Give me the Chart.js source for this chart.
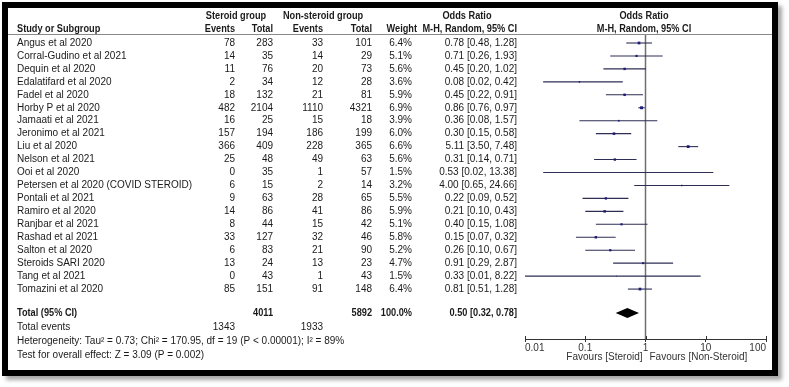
<!DOCTYPE html>
<html>
<head>
<meta charset="utf-8">
<script src="https://cdn.jsdelivr.net/npm/chart.js@4"></script>
<style>
  body { margin: 0; background: #fff; }
  #wrap { position: relative; width: 789px; height: 387px; }
  #frame {
    position: absolute; left: 2px; top: 2px; width: 764px; height: 362px;
    border: 6px solid #000; box-shadow: 4px 4px 4px rgba(0,0,0,0.35);
    pointer-events: none;
  }
</style>
</head>
<body>
<div id="wrap">
  <canvas id="forest" width="789" height="387"></canvas>
  <div id="frame"></div>
</div>
<script>
// Study data
const studies = [
  'Angus et al 2020', 'Corral-Gudino et al 2021', 'Dequin et al 2020', 'Edalatifard et al 2020',
  'Fadel et al 2020', 'Horby P et al 2020', 'Jamaati et al 2021', 'Jeronimo et al 2021',
  'Liu et al 2020', 'Nelson et al 2021', 'Ooi et al 2020', 'Petersen et al 2020 (COVID STEROID)',
  'Pontali et al 2021', 'Ramiro et al 2020', 'Ranjbar et al 2021', 'Rashad et al 2021',
  'Salton et al 2020', 'Steroids SARI 2020', 'Tang et al 2021', 'Tomazini et al 2020'
];
const steroidEvents = [78, 14, 11, 2, 18, 482, 16, 157, 366, 25, 0, 6, 9, 14, 8, 33, 6, 13, 0, 85];
const steroidTotal = [283, 35, 76, 34, 132, 2104, 25, 194, 409, 48, 35, 15, 63, 86, 44, 127, 83, 24, 43, 151];
const nonEvents = [33, 14, 20, 12, 21, 1110, 15, 186, 228, 49, 1, 2, 28, 41, 15, 32, 21, 13, 1, 91];
const nonTotal = [101, 29, 73, 28, 81, 4321, 18, 199, 365, 63, 57, 14, 65, 86, 42, 46, 90, 23, 43, 148];
const weights = [6.4, 5.1, 5.6, 3.6, 5.9, 6.9, 3.9, 6.0, 6.6, 5.6, 1.5, 3.2, 5.5, 5.9, 5.1, 5.8, 5.2, 4.7, 1.5, 6.4];
const oddsRatio = [0.78, 0.71, 0.45, 0.08, 0.45, 0.86, 0.36, 0.30, 5.11, 0.31, 0.53, 4.00, 0.22, 0.21, 0.40, 0.15, 0.26, 0.91, 0.33, 0.81];
const ciLow = [0.48, 0.26, 0.20, 0.02, 0.22, 0.76, 0.08, 0.15, 3.50, 0.14, 0.02, 0.65, 0.09, 0.10, 0.15, 0.07, 0.10, 0.29, 0.01, 0.51];
const ciHigh = [1.28, 1.93, 1.02, 0.42, 0.91, 0.97, 1.57, 0.58, 7.48, 0.71, 13.38, 24.66, 0.52, 0.43, 1.08, 0.32, 0.67, 2.87, 8.22, 1.28];

const totalSteroid = 4011;
const totalNon = 5892;
const totalEventsSteroid = 1343;
const totalEventsNon = 1933;
const pooled = [0.50, 0.32, 0.78]; // OR, low, high

const tickValues = [0.01, 0.1, 1, 10, 100];
const tickLabels = ['0.01', '0.1', '1', '10', '100'];

const FONT = '"Liberation Sans", Arial, sans-serif';
const rowOf = (i) => i + 1;
const totalRowY = 21.85;

// one little line per confidence interval
const ciSets = studies.map((s, i) => ({
    type: 'scatter',
    showLine: true,
    data: [{ x: ciLow[i], y: rowOf(i) }, { x: ciHigh[i], y: rowOf(i) }],
    borderColor: '#2e2e55',
    borderWidth: 1.1,
    pointRadius: 0,
    order: 2,
}));

const fmt2 = (v) => v.toFixed(2);

// text columns, vertical line at 1, diamond, favours labels
const forestExtras = {
    id: 'forestExtras',
    beforeDatasetsDraw(chart) {
        const { ctx, chartArea, scales } = chart;
        const x1 = scales.x.getPixelForValue(1);
        ctx.save();
        ctx.strokeStyle = '#6f6f6f';
        ctx.lineWidth = 1.5;
        ctx.beginPath();
        ctx.moveTo(x1, chartArea.top);
        ctx.lineTo(x1, chartArea.bottom);
        ctx.stroke();
        // small ticks above axis
        ctx.strokeStyle = '#333';
        ctx.lineWidth = 1;
        tickValues.forEach((v) => {
            const px = Math.round(scales.x.getPixelForValue(v)) + 0.5;
            ctx.beginPath();
            ctx.moveTo(px, chartArea.bottom - 3);
            ctx.lineTo(px, chartArea.bottom);
            ctx.stroke();
        });
        ctx.restore();
    },
    afterDraw(chart) {
        const { ctx, scales } = chart;
        const x = scales.x, y = scales.y;
        ctx.save();

        // header separator
        ctx.strokeStyle = '#8a8a8a';
        ctx.lineWidth = 1;
        ctx.beginPath();
        ctx.moveTo(8, 34.5);
        ctx.lineTo(772, 34.5);
        ctx.stroke();

        // pooled diamond
        const yc = y.getPixelForValue(totalRowY);
        ctx.fillStyle = '#000';
        ctx.beginPath();
        ctx.moveTo(x.getPixelForValue(pooled[1]), yc);
        ctx.lineTo(x.getPixelForValue(pooled[0]), yc - 5);
        ctx.lineTo(x.getPixelForValue(pooled[2]), yc);
        ctx.lineTo(x.getPixelForValue(pooled[0]), yc + 5);
        ctx.closePath();
        ctx.fill();

        // bold text is squeezed a bit, the original bold face is narrower
        const txt = (s, px, py, align, bold) => {
            ctx.font = (bold ? 'bold ' : '') + '10px ' + FONT;
            ctx.textAlign = align;
            ctx.textBaseline = 'middle';
            if (bold) {
                ctx.save();
                ctx.translate(px, py);
                ctx.scale(0.92, 1);
                ctx.fillText(s, 0, 0);
                ctx.restore();
            } else {
                ctx.fillText(s, px, py);
            }
        };
        ctx.fillStyle = '#1a1a1a';

        // headers
        txt('Steroid group', 236, 16, 'center', true);
        txt('Non-steroid group', 323, 16, 'center', true);
        txt('Odds Ratio', 467, 16, 'center', true);
        txt('Odds Ratio', 644, 16, 'center', true);
        txt('Study or Subgroup', 17, 29, 'left', true);
        txt('Events', 235, 29, 'right', true);
        txt('Total', 273, 29, 'right', true);
        txt('Events', 323, 29, 'right', true);
        txt('Total', 372, 29, 'right', true);
        txt('Weight', 417, 29, 'right', true);
        txt('M-H, Random, 95% CI', 517, 29, 'right', true);
        txt('M-H, Random, 95% CI', 644, 29, 'center', true);

        // study rows
        studies.forEach((s, i) => {
            const py = y.getPixelForValue(rowOf(i));
            txt(s, 17, py, 'left');
            txt(String(steroidEvents[i]), 235, py, 'right');
            txt(String(steroidTotal[i]), 273, py, 'right');
            txt(String(nonEvents[i]), 323, py, 'right');
            txt(String(nonTotal[i]), 372, py, 'right');
            txt(weights[i].toFixed(1) + '%', 412, py, 'right');
            txt(fmt2(oddsRatio[i]) + ' [' + fmt2(ciLow[i]) + ', ' + fmt2(ciHigh[i]) + ']', 517, py, 'right');
        });

        // totals
        txt('Total (95% CI)', 17, yc, 'left', true);
        txt(String(totalSteroid), 273, yc, 'right', true);
        txt(String(totalNon), 372, yc, 'right', true);
        txt('100.0%', 412, yc, 'right', true);
        txt(fmt2(pooled[0]) + ' [' + fmt2(pooled[1]) + ', ' + fmt2(pooled[2]) + ']', 517, yc, 'right', true);
        txt('Total events', 17, 327, 'left');
        txt(String(totalEventsSteroid), 235, 327, 'right');
        txt(String(totalEventsNon), 323, 327, 'right');
        txt('Heterogeneity: Tau\u00b2 = 0.73; Chi\u00b2 = 170.95, df = 19 (P < 0.00001); I\u00b2 = 89%', 17, 341, 'left');
        txt('Test for overall effect: Z = 3.09 (P = 0.002)', 17, 355, 'left');

        // favours labels
        const x1 = x.getPixelForValue(1);
        ctx.fillStyle = '#333';
        txt('Favours [Steroid]', x1 - 3, 357, 'right');
        txt('Favours [Non-Steroid]', x1 + 4, 357, 'left');
        ctx.restore();
    },
};

new Chart(document.getElementById('forest'), {
    type: 'scatter',
    data: {
        datasets: [
            ...ciSets,
            {
                type: 'scatter',
                data: oddsRatio.map((v, i) => ({ x: v, y: rowOf(i) })),
                pointStyle: 'rect',
                pointRadius: weights.map((w) => Math.max(0.7, w * 0.3)),
                backgroundColor: '#1c1c78',
                borderColor: '#1c1c78',
                borderWidth: 0,
                order: 1,
            },
        ],
    },
    options: {
        responsive: false,
        animation: false,
        layout: {
            padding: { left: 525, right: 23, top: 34, bottom: 36 },
        },
        scales: {
            x: {
                type: 'logarithmic',
                min: 0.01,
                max: 100,
                afterBuildTicks: (scale) => {
                    scale.ticks = tickValues.map((v) => ({ value: v }));
                },
                afterFit: (scale) => {
                    scale.height = 12;
                },
                border: { display: true, color: '#333', width: 1 },
                grid: { drawOnChartArea: false, tickLength: 3, color: '#333' },
                ticks: {
                    autoSkip: false,
                    maxRotation: 0,
                    align: 'inner',
                    padding: 0,
                    color: '#333',
                    font: { family: FONT, size: 10 },
                    callback: (v, i) => tickLabels[i],
                },
            },
            y: {
                type: 'linear',
                display: false,
                reverse: true,
                min: 0.305,
                max: 23.855,
            },
        },
        plugins: {
            legend: { display: false },
            tooltip: { enabled: false },
        },
    },
    plugins: [forestExtras],
});
</script>
</body>
</html>
